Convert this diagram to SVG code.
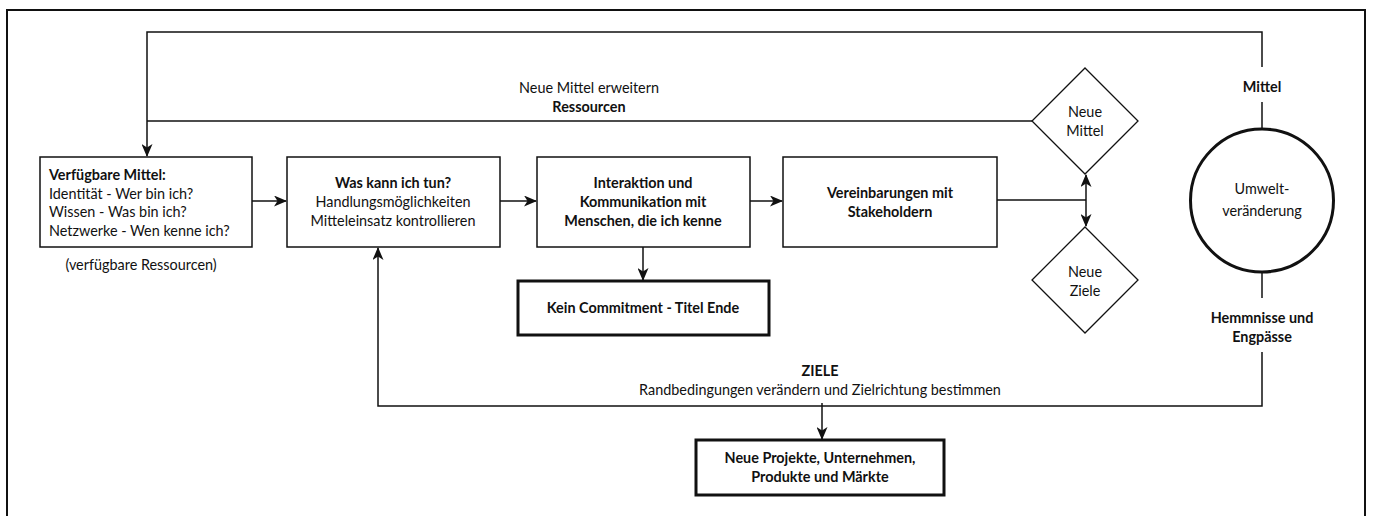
<svg xmlns="http://www.w3.org/2000/svg" width="1373" height="516" viewBox="0 0 1373 516">
<style>
text{font-family:Lato,"Noto Sans","Liberation Sans",sans-serif;font-size:14.4px;fill:#111;}
.b{font-weight:bold;}
.c{text-anchor:middle;}
.box{fill:#fff;stroke:#111;stroke-width:1.5;}
.thick{fill:#fff;stroke:#111;stroke-width:3;}
.dia{fill:#fff;stroke:#111;stroke-width:1.3;}
.ln{fill:none;stroke:#111;stroke-width:1.5;}
</style>
<defs>
<marker id="ah" viewBox="0 0 13 11" refX="12" refY="5.5" markerWidth="13" markerHeight="11" markerUnits="userSpaceOnUse" orient="auto-start-reverse">
<path d="M0,0 L13,5.5 L0,11 L3.5,5.5 z" fill="#111"/>
</marker>
</defs>
<rect width="1373" height="516" fill="#fff"/>
<rect x="7" y="10" width="1358" height="520" fill="none" stroke="#111" stroke-width="2"/>

<g id="connectors">
<polyline class="ln" points="1262,67 1262,32 147,32 147,156" marker-end="url(#ah)"/>
<line class="ln" x1="1262" y1="102" x2="1262" y2="128"/>
<line class="ln" x1="1032" y1="121" x2="147" y2="121"/>
<line class="ln" x1="252" y1="201" x2="286" y2="201" marker-end="url(#ah)"/>
<line class="ln" x1="500" y1="201" x2="536" y2="201" marker-end="url(#ah)"/>
<line class="ln" x1="750" y1="201" x2="782" y2="201" marker-end="url(#ah)"/>
<line class="ln" x1="643" y1="247" x2="643" y2="280" marker-end="url(#ah)"/>
<line class="ln" x1="997" y1="200" x2="1086" y2="200"/>
<line class="ln" x1="1086" y1="175" x2="1086" y2="226" marker-start="url(#ah)" marker-end="url(#ah)"/>
<line class="ln" x1="1262" y1="273" x2="1262" y2="298"/>
<polyline class="ln" points="1262,352 1262,406 378,406 378,248" marker-end="url(#ah)"/>
<line class="ln" x1="822" y1="403" x2="822" y2="439" marker-end="url(#ah)"/>
</g>

<g id="label-ressourcen">
<text class="c" x="589" y="93">Neue Mittel erweitern</text>
<text class="c b" x="589" y="112">Ressourcen</text>
</g>
<g id="label-mittel"><text class="c b" x="1262" y="92">Mittel</text></g>
<g id="label-hemmnisse">
<text class="c b" x="1262" y="323">Hemmnisse und</text>
<text class="c b" x="1262" y="342">Engpässe</text>
</g>
<g id="label-ziele">
<text class="c b" x="820" y="376">ZIELE</text>
<text class="c" x="820" y="395">Randbedingungen verändern und Zielrichtung bestimmen</text>
</g>

<g id="n-verfuegbar">
<rect class="box" x="40" y="157" width="212" height="90"/>
<text class="b" x="49" y="180">Verfügbare Mittel:</text>
<text x="49" y="199">Identität - Wer bin ich?</text>
<text x="49" y="217">Wissen - Was bin ich?</text>
<text x="49" y="236">Netzwerke - Wen kenne ich?</text>
<text class="c" x="141" y="270">(verfügbare Ressourcen)</text>
</g>
<g id="n-was">
<rect class="box" x="287" y="157" width="213" height="90"/>
<text class="c b" x="393" y="188">Was kann ich tun?</text>
<text class="c" x="393" y="207">Handlungsmöglichkeiten</text>
<text class="c" x="393" y="226">Mitteleinsatz kontrollieren</text>
</g>
<g id="n-interaktion">
<rect class="box" x="537" y="157" width="213" height="90"/>
<text class="c b" x="643" y="188">Interaktion und</text>
<text class="c b" x="643" y="207">Kommunikation mit</text>
<text class="c b" x="643" y="226">Menschen, die ich kenne</text>
</g>
<g id="n-vereinbarungen">
<rect class="box" x="783" y="157" width="214" height="90"/>
<text class="c b" x="890" y="198">Vereinbarungen mit</text>
<text class="c b" x="890" y="217">Stakeholdern</text>
</g>
<g id="n-kein">
<rect class="thick" x="518" y="281" width="251" height="54"/>
<text class="c b" x="643" y="313">Kein Commitment - Titel Ende</text>
</g>
<g id="n-neuemittel">
<polygon class="dia" points="1085,68 1138,121 1085,174 1032,121"/>
<text class="c" x="1085" y="117">Neue</text>
<text class="c" x="1085" y="136">Mittel</text>
</g>
<g id="n-neueziele">
<polygon class="dia" points="1085,227 1138,280 1085,333 1032,280"/>
<text class="c" x="1085" y="277">Neue</text>
<text class="c" x="1085" y="296">Ziele</text>
</g>
<g id="n-umwelt">
<circle class="thick" cx="1262" cy="200.5" r="71.5"/>
<text class="c" x="1262" y="194">Umwelt-</text>
<text class="c" x="1262" y="216">veränderung</text>
</g>
<g id="n-projekte">
<rect class="thick" x="696" y="440" width="248" height="55"/>
<text class="c b" x="820" y="463">Neue Projekte, Unternehmen,</text>
<text class="c b" x="820" y="482">Produkte und Märkte</text>
</g>
</svg>
